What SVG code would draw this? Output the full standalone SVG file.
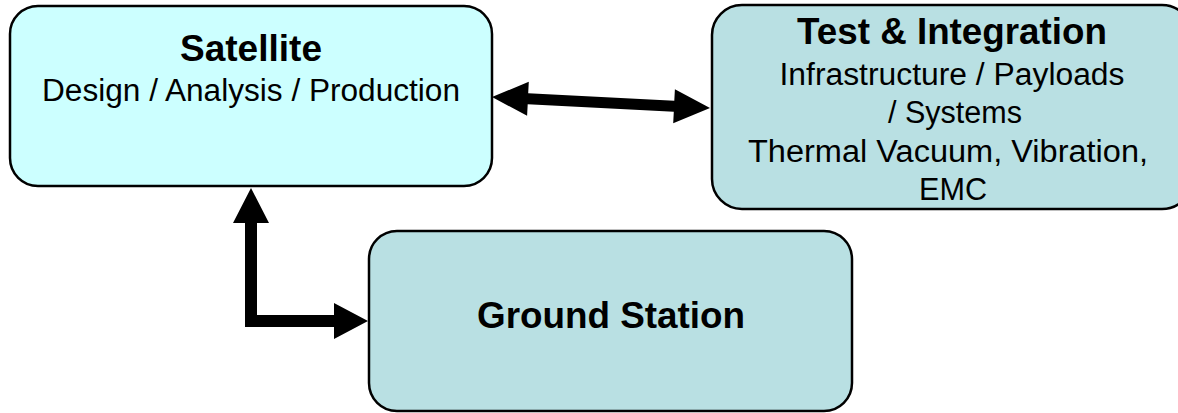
<svg xmlns="http://www.w3.org/2000/svg" width="1178" height="413" viewBox="0 0 1178 413">
  <style>
    .box { stroke: #000; stroke-width: 2.5; }
    .sat { fill: #ccffff; }
    .teal { fill: #b9e0e3; }
    .title { font-family: "Liberation Sans", Arial, sans-serif; font-weight: bold; font-size: 36px; fill: #000; text-anchor: middle; }
    .sub { font-family: "Liberation Sans", Arial, sans-serif; font-size: 31px; fill: #000; text-anchor: middle; }
    .arrow { fill: #000; }
  </style>
  <rect width="1178" height="413" fill="#ffffff"/>

  <g id="satellite">
    <rect class="box sat" x="10" y="6" width="482" height="180" rx="28" ry="28"/>
    <text class="title" x="251" y="61" textLength="142" lengthAdjust="spacingAndGlyphs">Satellite</text>
    <text class="sub" x="251" y="101" textLength="418" lengthAdjust="spacingAndGlyphs">Design / Analysis / Production</text>
  </g>

  <g id="test-integration">
    <rect class="box teal" x="712" y="5" width="480" height="204" rx="30" ry="30"/>
    <text class="title" x="952" y="44" textLength="310" lengthAdjust="spacingAndGlyphs">Test &amp; Integration</text>
    <text class="sub" x="952" y="85" textLength="345" lengthAdjust="spacingAndGlyphs">Infrastructure / Payloads</text>
    <text class="sub" x="955" y="123" textLength="134" lengthAdjust="spacingAndGlyphs">/ Systems</text>
    <text class="sub" x="948" y="162" textLength="400" lengthAdjust="spacingAndGlyphs">Thermal Vacuum, Vibration,</text>
    <text class="sub" x="953" y="200" textLength="68" lengthAdjust="spacingAndGlyphs">EMC</text>
  </g>

  <g id="ground-station">
    <rect class="box teal" x="369" y="231" width="483" height="180" rx="28" ry="28"/>
    <text class="title" x="611" y="328" textLength="268" lengthAdjust="spacingAndGlyphs">Ground Station</text>
  </g>

  <g id="connectors">
    <!-- two-headed link between Satellite and Test & Integration -->
    <polygon class="arrow" points="492,97 528.8,81.8 528.2,93.3 674.3,100.7 674.9,89.2 710,108 673.2,123.2 673.8,111.7 527.7,104.3 527.1,115.8"/>
    <!-- elbow link between Ground Station and Satellite -->
    <polygon class="arrow" points="251,188 269,223 257,223 257,315 334,315 334,303 368,321 334,339 334,327 245,327 245,223 233,223"/>
  </g>
</svg>
